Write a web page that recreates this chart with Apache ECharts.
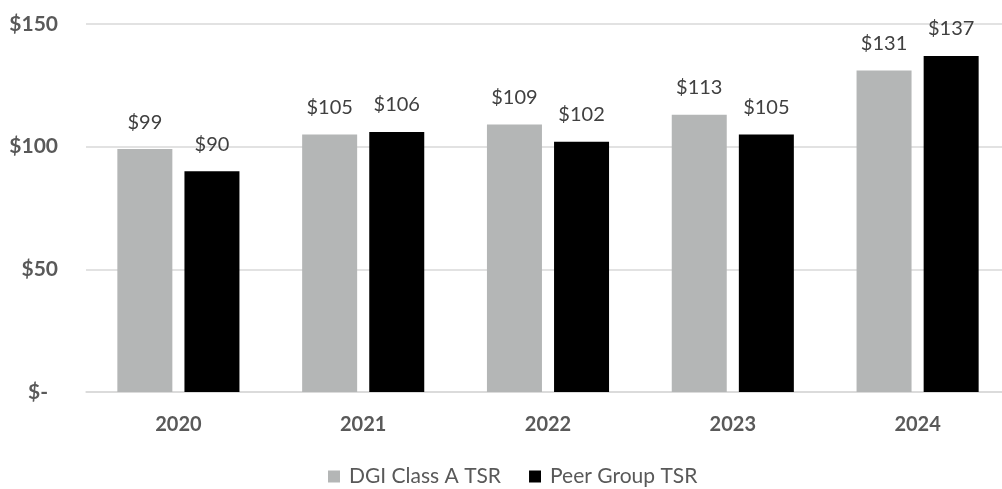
<!DOCTYPE html>
<html><head><meta charset="utf-8">
<script src="https://cdn.jsdelivr.net/npm/echarts@6/dist/echarts.min.js"></script>
<style>html,body{margin:0;padding:0;background:#fff;overflow:hidden}#c{width:1010px;height:489px}</style>
</head><body><div id="c"></div>
<script>
const categories = ['2020','2021','2022','2023','2024'];
const dgiValues = [99,105,109,113,131];
const peerValues = [90,106,102,105,137];
const yTicks = [0,50,100,150];
const seriesNames = ['DGI Class A TSR','Peer Group TSR'];

const chart = echarts.init(document.getElementById('c'));
const font = 'Lato, "Open Sans", sans-serif';
const lbl = {show:true, position:'top', distance:17, color:'#404040', fontSize:20, fontFamily:font, formatter:p=>'$'+p.value};
chart.setOption({
  animation:false,
  grid:{left:86, right:0, top:24, bottom:97},
  legend:{bottom:-3, left:323, itemWidth:12, itemHeight:12, itemGap:28,
    icon:'rect', textStyle:{color:'#595959', fontSize:21, fontFamily:font, padding:[0,0,0,4]}, data:seriesNames},
  xAxis:{type:'category', data:categories,
    axisLine:{lineStyle:{color:'#d9d9d9', width:1.5}}, axisTick:{show:false},
    axisLabel:{color:'#595959', fontSize:20, fontWeight:'bold', fontFamily:font, margin:23}},
  yAxis:{type:'value', min:0, max:150, interval:50,
    axisLine:{show:false}, axisTick:{show:false},
    splitLine:{lineStyle:{color:'#d9d9d9', width:1.5}},
    axisLabel:{color:'#595959', fontSize:21, fontWeight:'bold', fontFamily:font, margin:28,
      formatter:v=> v===0 ? '{z|$-}' : '$'+v,
      rich:{z:{color:'#595959', fontSize:21, fontWeight:'bold', fontFamily:font, padding:[0,10,0,0]}}}},
  series:[
    {name:seriesNames[0], type:'bar', data:dgiValues, itemStyle:{color:'#b4b6b6'},
     barWidth:55, barGap:'22%', label:lbl},
    {name:seriesNames[1], type:'bar', data:peerValues, itemStyle:{color:'#000000'},
     barWidth:55, label:lbl}
  ]
});
</script></body></html>
